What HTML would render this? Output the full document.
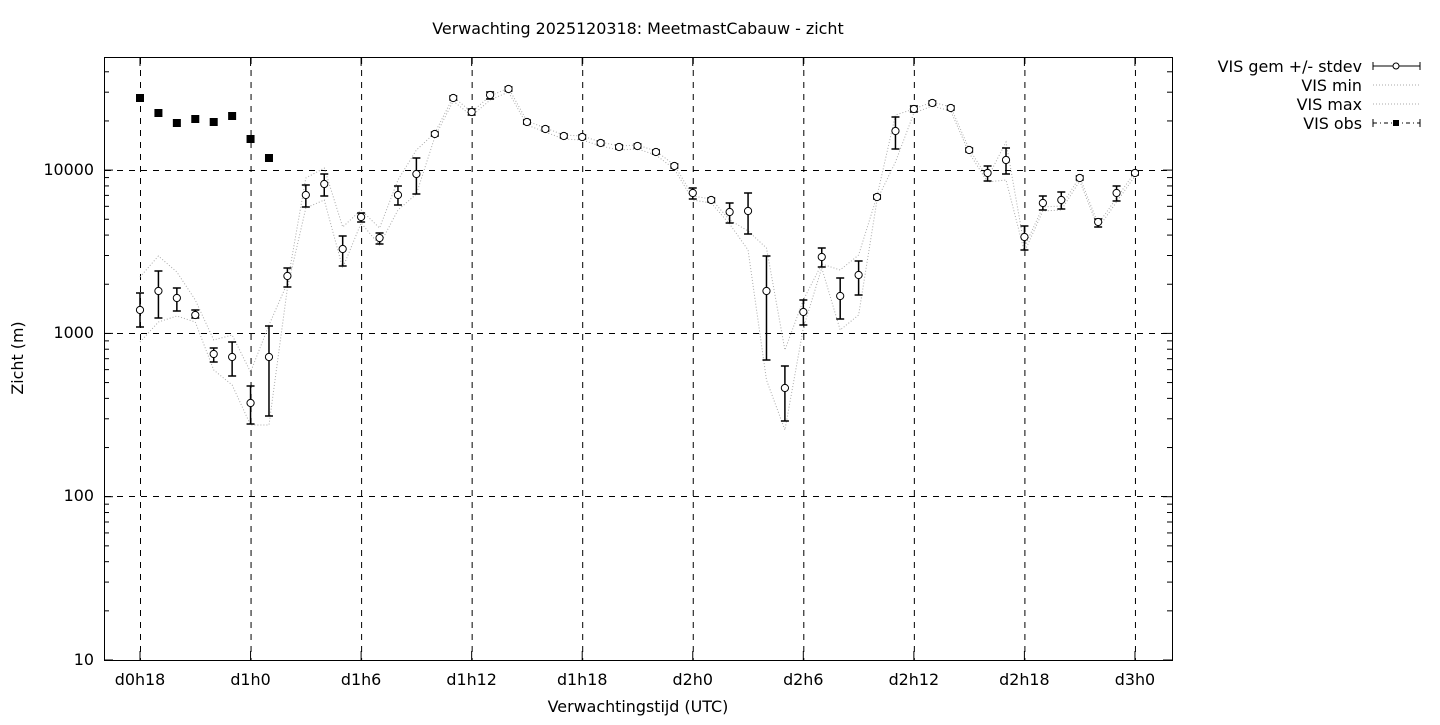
<!DOCTYPE html>
<html><head><meta charset="utf-8"><style>
body{margin:0;background:#fff;}
svg text{font-family:"DejaVu Sans","Liberation Sans",sans-serif;font-size:15.9px;fill:#000;}
</style></head><body>
<svg id="s" width="1440" height="720" xmlns="http://www.w3.org/2000/svg">
<rect width="1440" height="720" fill="#fff"/>
<text x="638" y="34" text-anchor="middle">Verwachting 2025120318: MeetmastCabauw - zicht</text>
<text x="638" y="712" text-anchor="middle">Verwachtingstijd (UTC)</text>
<text transform="translate(23,358) rotate(-90)" text-anchor="middle">Zicht (m)</text>
<g id="g"></g>
<rect x="104.5" y="57.5" width="1068" height="603" fill="none" stroke="#000"/>
<text x="1362" y="72" text-anchor="end">VIS gem +/- stdev</text>
<text x="1362" y="91" text-anchor="end">VIS min</text>
<text x="1362" y="110" text-anchor="end">VIS max</text>
<text x="1362" y="129" text-anchor="end">VIS obs</text>
</svg>
<script>
const g=document.getElementById('g');let h='';
const yl=[[660,'10'],[496,'100'],[333,'1000'],[170,'10000']];
for(const [y,t] of yl){h+=`<text x="94" y="${y+5}" text-anchor="end">${t}</text>`;
 if(y<660)h+=`<line x1="105" x2="1172" y1="${y+.5}" y2="${y+.5}" stroke="#000" stroke-dasharray="6,6"/>`;}
for(let d=1;d<=4;d++)for(let m=1;m<=9;m++){const y=660-(d-1)*163.3-Math.log10(m)*163.3;if(y<57)continue;const L=m==1?9:5;
 h+=`<line x1="104" x2="${104+L}" y1="${y}" y2="${y}" stroke="#000"/><line x1="${1172-L}" x2="1172" y1="${y}" y2="${y}" stroke="#000"/>`;}
const xl=['d0h18','d1h0','d1h6','d1h12','d1h18','d2h0','d2h6','d2h12','d2h18','d3h0'];
xl.forEach((t,i)=>{const x=140+i*110.55;h+=`<text x="${x}" y="685" text-anchor="middle">${t}</text>`;
 h+=`<line x1="${x+.5}" x2="${x+.5}" y1="58" y2="660" stroke="#000" stroke-dasharray="6,6"/>`;
 h+=`<line x1="${x}" x2="${x}" y1="660" y2="651" stroke="#000"/><line x1="${x}" x2="${x}" y1="57" y2="66" stroke="#000"/>`;});
const D=[[310,293,327],[291,271,318],[298,288,311],[315,310,318],[354,348,362],[357,342,376],[403,386,424],[357,326,416],
[276,268,287],[195,185,207],[184,174,196],[249,236,266],[217,213,222],[238,233,244],[195,186,205],[174,158,194],
[134,132,136],[98,96,100],[112,109,115],[95,92,99],[89,87,91],[122,120,124],[129,127,131],[136,134,138],[137,135,139],
[143,141,145],[147,145,149],[146,144,148],[152,150,154],[166,164,168],[193,188,199],[200,198,202],[212,203,223],[211,193,234],
[291,256,360],[388,366,421],[312,300,325],[257,248,267],[296,278,319],[275,261,295],[197,195,199],[131,117,149],[109,106,112],
[103,101,105],[108,106,110],[150,148,152],[173,166,181],[160,148,174],[237,226,250],[203,196,210],[200,192,209],[178,176,180],
[222,219,227],[193,186,201],[173,171,175]];
const mx={0:277,1:256,2:272,3:300,4:340,5:335,6:372,7:325,8:283,9:178,10:168,11:227,12:210,13:228,14:180,15:150,34:248,35:350,36:300,38:270,39:255,41:115,47:142};
const mn={0:342,1:322,2:316,3:322,4:370,5:385,6:425,7:425,10:200,11:268,14:210,15:194,33:250,34:380,35:430,36:328,38:330,39:315,41:162,47:180,48:252};
const X=i=>140+i*995/54;
let pmax='',pmin='';
D.forEach((d,i)=>{const a=mx[i]??d[2]-3,b=mn[i]??d[2]+1;pmax+=(i?'L':'M')+X(i)+','+a;pmin+=(i?'L':'M')+X(i)+','+b;});
h+=`<path d="${pmax}" fill="none" stroke="#aaa" stroke-dasharray="1,2"/><path d="${pmin}" fill="none" stroke="#aaa" stroke-dasharray="1,2"/>`;
D.forEach((d,i)=>{const x=X(i);h+=`<line x1="${x}" x2="${x}" y1="${d[1]}" y2="${d[2]}" stroke="#000" stroke-width="1.5"/>`+
 `<line x1="${x-4}" x2="${x+4}" y1="${d[1]}" y2="${d[1]}" stroke="#000" stroke-width="1.5"/><line x1="${x-4}" x2="${x+4}" y1="${d[2]}" y2="${d[2]}" stroke="#000" stroke-width="1.5"/>`+
 `<circle cx="${x}" cy="${d[0]}" r="3.6" fill="#fff" stroke="#000"/>`;});
[98,113,123,119,122,116,139,158].forEach((y,i)=>{const x=X(i);h+=`<rect x="${x-4}" y="${y-4}" width="8" height="8" fill="#000"/>`;});
h+=`<line x1="1373" x2="1420" y1="66" y2="66" stroke="#000"/><line x1="1373" x2="1373" y1="62" y2="70" stroke="#000"/><line x1="1420" x2="1420" y1="62" y2="70" stroke="#000"/><circle cx="1396" cy="66" r="3" fill="#fff" stroke="#000"/>`;
h+=`<line x1="1373" x2="1420" y1="85" y2="85" stroke="#aaa" stroke-dasharray="1,2"/><line x1="1373" x2="1420" y1="104" y2="104" stroke="#aaa" stroke-dasharray="1,2"/>`;
h+=`<line x1="1373" x2="1420" y1="123" y2="123" stroke="#000" stroke-dasharray="4,3,1,3"/><line x1="1373" x2="1373" y1="119" y2="127" stroke="#000"/><line x1="1420" x2="1420" y1="119" y2="127" stroke="#000"/><rect x="1393" y="120" width="6" height="6" fill="#000"/>`;
g.innerHTML=h;
</script>
</body></html>
